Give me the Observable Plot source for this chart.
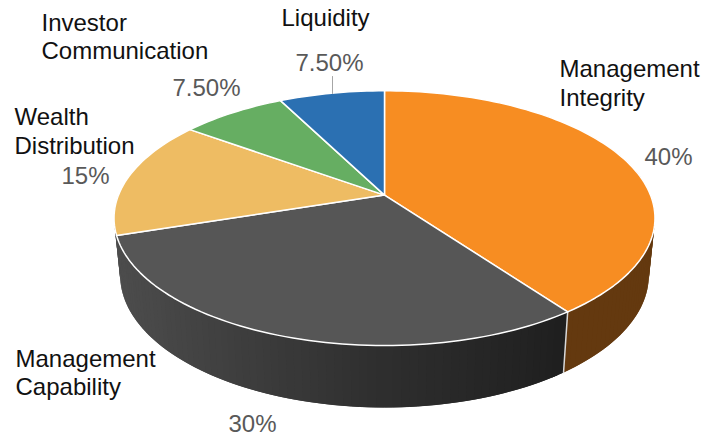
<!DOCTYPE html>
<html>
<head>
<meta charset="utf-8">
<style>html,body{margin:0;padding:0;background:#fff}</style>
<script src="https://cdn.jsdelivr.net/npm/d3@7"></script>
<script src="https://cdn.jsdelivr.net/npm/@observablehq/plot@0.6"></script>
</head>
<body>
<div id="chart"></div>
<script>
// Data
const categories = ["Management Integrity", "Management Capability", "Wealth Distribution", "Investor Communication", "Liquidity"];
const shares = [40, 30, 15, 7.5, 7.5];
const valueLabels = ["40%", "30%", "15%", "7.50%", "7.50%"];
const sliceColors = ["#f78d22", "#565656", "#eebc63", "#66ae62", "#2b70b2"];

// Layout of the tilted disc (perspective view of a unit circle)
const top3d = {cx: 384, cy: 194.6, ax: 266, ay: 123.2, k: 0.181};
const bottom3d = {cx: 384, cy: 250.7, ax: 260, ay: 128, k: 0.181};
const project = (d, deg) => {
  const t = deg * Math.PI / 180, u = Math.sin(t), v = -Math.cos(t), w = 1 - d.k * v;
  return {x: d.cx + d.ax * u / w, y: d.cy + d.ay * v / w};
};

// Slice angles come from the shares
const total = d3.sum(shares);
let running = 0;
const slices = shares.map((s, i) => {
  const a0 = running / total * 360; running += s;
  return {i, a0, a1: running / total * 360};
});
const STEP = 1.5;
const range = (a, b) => { const r = d3.range(a, b, STEP); r.push(b); return r; };

// Top faces
const faces = slices.flatMap(s => [
  {id: s.i, x: top3d.cx, y: top3d.cy, color: sliceColors[s.i]},
  ...range(s.a0, s.a1).map(a => ({id: s.i, ...project(top3d, a), color: sliceColors[s.i]}))
]);

// Side wall: overlapping strips painted in angle order, so no seams show
const wallStart = 60, wallEnd = 270, split = slices[0].a1;
const darkShade = d3.scaleLinear([125, 250, 384, 540], ["#4c4c4c", "#3d3d3d", "#2e2e2e", "#212121"]);
const wall = [];
range(wallStart, wallEnd).forEach((a, j, arr) => {
  if (j === arr.length - 1) return;
  const b = Math.min(a + 2 * STEP, wallEnd);
  const inFirst = a < split;
  const end = inFirst ? Math.min(b, split) : b;
  const c = inFirst ? "#64390f" : darkShade(project(bottom3d, a + STEP / 2).x);
  [project(top3d, a), project(top3d, end), project(bottom3d, end), project(bottom3d, a)]
    .forEach(p => wall.push({id: j, ...p, color: c}));
});
// Closing strip: the dark wall starts exactly at the slice boundary
const firstDark = Math.min(split + 2 * STEP, wallEnd);
[project(top3d, split), project(top3d, firstDark), project(bottom3d, firstDark), project(bottom3d, split)]
  .forEach(p => wall.push({id: "start", ...p, color: darkShade(project(bottom3d, split).x)}));

// Edge between the two visible walls
const wallEdge = [project(top3d, split), project(bottom3d, split)];

// Text, one row per line, placed on the baseline
const textRows = [
  {text: "Management", x: 559, y: 76, fill: "#111111"},
  {text: "Integrity", x: 559, y: 105, fill: "#111111"},
  {text: valueLabels[0], x: 644, y: 164, fill: "#595959"},
  {text: "Management", x: 15, y: 366, fill: "#111111"},
  {text: "Capability", x: 15, y: 394, fill: "#111111"},
  {text: valueLabels[1], x: 228, y: 431, fill: "#595959"},
  {text: "Wealth", x: 14, y: 124, fill: "#111111"},
  {text: "Distribution", x: 14, y: 153, fill: "#111111"},
  {text: valueLabels[2], x: 61, y: 183, fill: "#595959"},
  {text: "Investor", x: 41, y: 30, fill: "#111111"},
  {text: "Communication", x: 41, y: 58, fill: "#111111"},
  {text: valueLabels[3], x: 172, y: 95, fill: "#595959"},
  {text: "Liquidity", x: 281, y: 25, fill: "#111111"},
  {text: valueLabels[4], x: 295, y: 70, fill: "#595959"}
];
const leader = [{x: 332, y: 76}, {x: 332, y: 93}];

const chart = Plot.plot({
  width: 714,
  height: 436,
  margin: 0,
  x: {domain: [0, 714], range: [0, 714], axis: null},
  y: {domain: [0, 436], range: [0, 436], axis: null},
  color: {type: "identity"},
  style: {background: "#fff", fontFamily: "'Liberation Sans', Arial, sans-serif"},
  marks: [
    Plot.line(wall, {x: "x", y: "y", z: "id", fill: "color", stroke: "none", curve: "linear-closed"}),
    Plot.line(wallEdge, {x: "x", y: "y", stroke: "#d9d9d9", strokeWidth: 1.5}),
    Plot.line(faces, {x: "x", y: "y", z: "id", fill: "color", stroke: "#ffffff", strokeWidth: 1.5, strokeLinejoin: "round", curve: "linear-closed"}),
    Plot.line(leader, {x: "x", y: "y", stroke: "#a6a6a6", strokeWidth: 1}),
    Plot.text(textRows, {x: "x", y: "y", text: "text", fill: "fill", fontSize: 24, textAnchor: "start", lineAnchor: "bottom"})
  ]
});
document.getElementById("chart").appendChild(chart);
</script>
</body>
</html>
